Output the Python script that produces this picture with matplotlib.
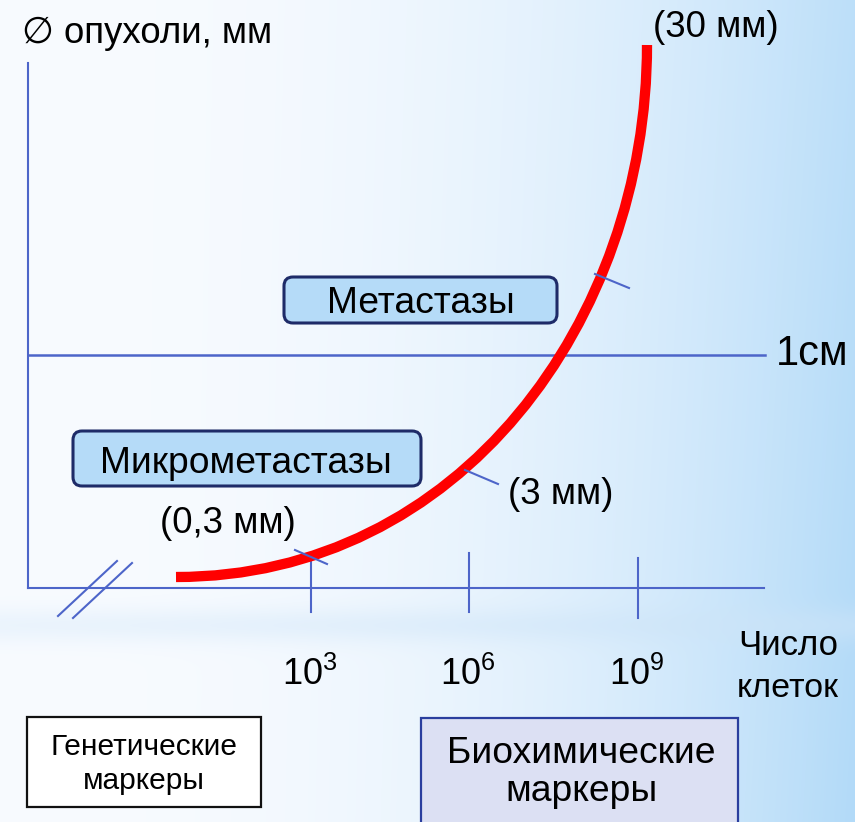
import numpy as np
import matplotlib
matplotlib.use("Agg")
import matplotlib.pyplot as plt
from matplotlib.patches import FancyBboxPatch, Rectangle, PathPatch
from matplotlib.path import Path

plt.rcParams['font.family'] = ['Liberation Sans', 'DejaVu Sans']
plt.rcParams['mathtext.fontset'] = 'custom'
plt.rcParams['mathtext.rm'] = 'Liberation Sans'
plt.rcParams['mathtext.it'] = 'Liberation Sans'

W, H = 855, 822

# Growth curve of the tumour: one cubic Bezier (diagram coordinates, y grows downward)
curve_ctrl_x = [176, 460, 647, 647]
curve_ctrl_y = [577, 577, 320, 45]

# Cell-count ticks on the horizontal axis
tick_x = [311, 469, 638]
tick_top = [558, 553, 558]
tick_bottom = [612, 612, 618]
tick_labels = [r'$10^3$', r'$10^6$', r'$10^9$']

# Size marks across the curve: (x0, y0, x1, y1) and their labels
size_marks = [(295, 550, 327, 564), (465, 470, 498, 484), (595, 274, 629, 288)]
size_labels = ['(0,3 мм)', '(3 мм)', '(30 мм)']
size_label_pos = [(160, 533), (508, 504), (653, 37)]

axis_color = '#4D65C9'
FS = 26.5

fig = plt.figure(figsize=(W / 100, H / 100), dpi=100)
ax = fig.add_axes([0, 0, 1, 1])
ax.set_xlim(0, W)
ax.set_ylim(H, 0)
ax.axis('off')

# Background: white on the left fading into light blue on the right
xx = np.linspace(0, 1, W)[None, :]
yy = np.linspace(0, 1, H)[:, None]
left = np.array([248, 251, 255]) / 255
right = np.array([178, 218, 248]) / 255
t = (xx ** 2.4) * (0.85 + 0.15 * yy)
bg = left[None, None, :] * (1 - t[..., None]) + right[None, None, :] * t[..., None]
bg = np.broadcast_to(bg, (H, W, 3)).copy()
band = np.exp(-((np.arange(H) - 625) / 18.0) ** 2)[:, None] * (0.3 + 0.25 * xx)
band_col = np.array([205, 228, 248]) / 255
bg = bg * (1 - band[..., None]) + band_col * band[..., None]
ax.imshow(bg, extent=[0, W, H, 0], zorder=0, aspect='auto')

# Axes of the diagram
ax.plot([28, 28], [63, 588], color=axis_color, lw=1.5, zorder=2)
ax.plot([28, 764], [588, 588], color=axis_color, lw=1.5, zorder=2)
ax.plot([28, 765], [355, 355], color=axis_color, lw=1.8, zorder=2)
ax.text(776, 365, '1см', fontsize=30, va='baseline', ha='left', zorder=5)

# Axis break
ax.plot([58, 117], [616, 561], color=axis_color, lw=1.5, zorder=2)
ax.plot([73, 132], [618, 563], color=axis_color, lw=1.5, zorder=2)

for x, y0, y1, lab in zip(tick_x, tick_top, tick_bottom, tick_labels):
    ax.plot([x, x], [y0, y1], color=axis_color, lw=1.5, zorder=2)
    ax.text(x - 29, 685, lab, fontsize=26, va='baseline', ha='left', zorder=5)

ax.text(738, 655, 'Число', fontsize=25, va='baseline', ha='left', zorder=5)
ax.text(737, 697, 'клеток', fontsize=24.5, va='baseline', ha='left', zorder=5)

# Curve
curve_path = Path(np.column_stack([curve_ctrl_x, curve_ctrl_y]),
                  [Path.MOVETO, Path.CURVE4, Path.CURVE4, Path.CURVE4])
ax.add_patch(PathPatch(curve_path, fc='none', ec='#FF0000', lw=7.4,
                       capstyle='butt', joinstyle='round', zorder=3))

for (x0, y0, x1, y1) in size_marks:
    ax.plot([x0, x1], [y0, y1], color=axis_color, lw=1.5, zorder=4)
for lab, (x, y) in zip(size_labels, size_label_pos):
    ax.text(x, y, lab, fontsize=FS, va='baseline', ha='left', zorder=5)

ax.text(22, 43, '∅ опухоли, мм', fontsize=26.4, va='baseline', ha='left',
        family=['Liberation Sans', 'DejaVu Sans'], zorder=5)

# Stage boxes
def stage_box(x0, y0, x1, y1, label, cx, base):
    ax.add_patch(FancyBboxPatch((x0, y0), x1 - x0, y1 - y0,
                                boxstyle='round,pad=0,rounding_size=9',
                                fc='#B5DBF8', ec='#1E2B68', lw=2.2, zorder=4))
    ax.text(cx, base, label, fontsize=26.8, ha='center', va='baseline', zorder=5)

stage_box(284, 277, 557, 323, 'Метастазы', 421, 313)
stage_box(73, 431, 421, 486, 'Микрометастазы', 246, 473)

# Marker boxes
ax.add_patch(Rectangle((27, 717), 234, 90, fc='white', ec='#111111', lw=1.6, zorder=4))
ax.text(144, 755, 'Генетические', fontsize=21.5, ha='center', va='baseline', zorder=5)
ax.text(144, 789, 'маркеры', fontsize=21.5, ha='center', va='baseline', zorder=5)

ax.add_patch(Rectangle((421, 718), 317, 120, fc='#DCE0F3', ec='#2A3E9E', lw=1.6, zorder=4))
ax.text(581, 763, 'Биохимические', fontsize=26.8, ha='center', va='baseline', zorder=5)
ax.text(581, 801, 'маркеры', fontsize=26.8, ha='center', va='baseline', zorder=5)

fig.savefig('out.png', dpi=100)
